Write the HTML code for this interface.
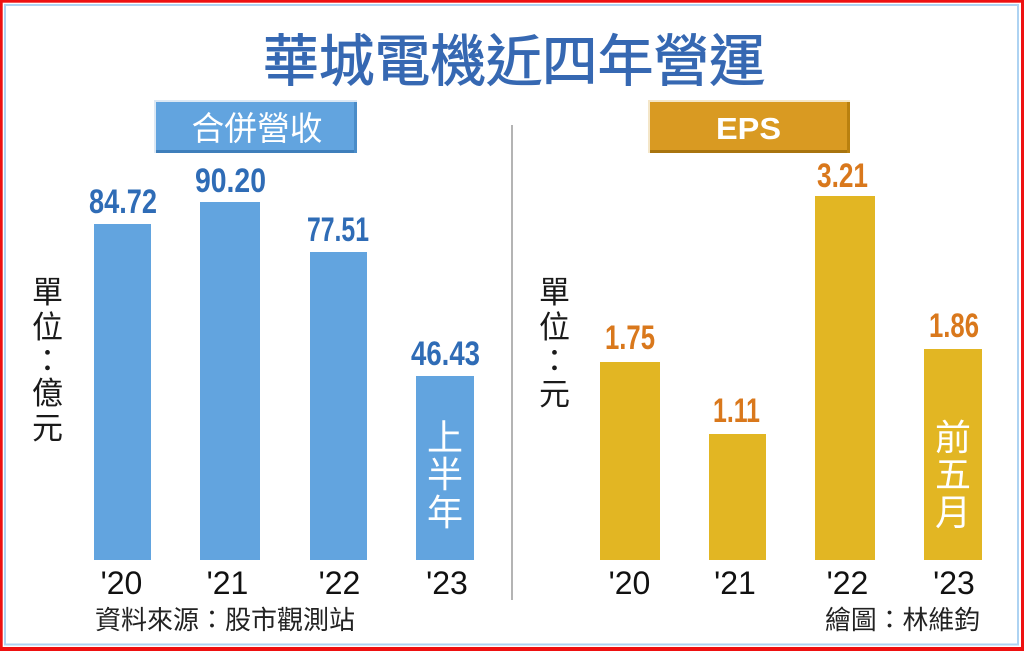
<!DOCTYPE html>
<html><head><meta charset="utf-8"><style>
html,body{margin:0;padding:0;background:#fff;}
svg{display:block;}
.cjk{font-family:"Liberation Sans","Noto Sans CJK TC","Noto Sans CJK SC",sans-serif;}
.num{font-family:"Liberation Sans",sans-serif;font-weight:bold;}
.yr{font-family:"Liberation Sans",sans-serif;font-size:32px;fill:#111;}
</style></head><body>
<svg width="1024" height="651" viewBox="0 0 1024 651" xmlns="http://www.w3.org/2000/svg">
<rect x="0" y="0" width="1024" height="651" fill="#ee1111"/>
<rect x="2.7" y="2.7" width="1018.3" height="644.3" fill="#ffffff"/>
<rect x="5" y="5" width="1013" height="639.5" fill="none" stroke="#aed3f2" stroke-width="2"/>

<!-- title -->
<text class="cjk" x="263" y="81" font-size="56" font-weight="400" fill="#3668b2" stroke="#3668b2" stroke-width="0.9" textLength="502" lengthAdjust="spacingAndGlyphs">華城電機近四年營運</text>

<!-- buttons -->
<rect x="154" y="100" width="203" height="53" fill="#dce8f4"/>
<rect x="156" y="102" width="201" height="51" fill="#62a4df"/>
<rect x="156" y="150" width="201" height="3" fill="#3f7fbb"/>
<rect x="354" y="102" width="3" height="51" fill="#4a8cc8"/>
<text class="cjk" x="257" y="140" font-size="33" fill="#ffffff" text-anchor="middle" textLength="131" lengthAdjust="spacingAndGlyphs">合併營收</text>

<rect x="648" y="100" width="202" height="53" fill="#f4e6c8"/>
<rect x="650" y="102" width="200" height="51" fill="#d99a22"/>
<rect x="650" y="150" width="200" height="3" fill="#a8740e"/>
<rect x="847" y="102" width="3" height="51" fill="#b9800f"/>
<text class="num" x="748.5" y="139" font-size="31" fill="#ffffff" text-anchor="middle" textLength="65" lengthAdjust="spacingAndGlyphs">EPS</text>

<!-- separator -->
<line x1="512" y1="125" x2="512" y2="600" stroke="#b4b4b4" stroke-width="2"/>

<!-- y unit labels -->
<g class="cjk" font-size="31" fill="#1a1a1a" text-anchor="middle">
<text x="47.5" y="303">單</text>
<text x="47.5" y="338">位</text>
<text x="47.5" y="372">：</text>
<text x="47.5" y="404">億</text>
<text x="47.5" y="439">元</text>
<text x="554.5" y="303">單</text>
<text x="554.5" y="338">位</text>
<text x="554.5" y="372">：</text>
<text x="554.5" y="405">元</text>
</g>

<!-- left bars -->
<g fill="#62a4df">
<rect x="94" y="224" width="57" height="336"/>
<rect x="200" y="202" width="60" height="358"/>
<rect x="310" y="252" width="57" height="308"/>
<rect x="416" y="376" width="58" height="184"/>
</g>
<g class="num" font-size="34" fill="#2f6cb6">
<text x="89" y="213" textLength="68" lengthAdjust="spacingAndGlyphs">84.72</text>
<text x="195" y="192" textLength="71" lengthAdjust="spacingAndGlyphs">90.20</text>
<text x="307" y="241" textLength="62" lengthAdjust="spacingAndGlyphs">77.51</text>
<text x="411" y="365" textLength="69" lengthAdjust="spacingAndGlyphs">46.43</text>
</g>

<!-- right bars -->
<g fill="#e2b623">
<rect x="600" y="362" width="60" height="198"/>
<rect x="709" y="434" width="57" height="126"/>
<rect x="815" y="196" width="60" height="364"/>
<rect x="924" y="349" width="58" height="211"/>
</g>
<g class="num" font-size="34" fill="#d9781c">
<text x="605" y="349" textLength="50" lengthAdjust="spacingAndGlyphs">1.75</text>
<text x="713" y="422" textLength="47" lengthAdjust="spacingAndGlyphs">1.11</text>
<text x="817" y="187" textLength="51" lengthAdjust="spacingAndGlyphs">3.21</text>
<text x="929" y="337" textLength="50" lengthAdjust="spacingAndGlyphs">1.86</text>
</g>

<!-- vertical texts in bars -->
<g class="cjk" font-size="36" fill="#ffffff" text-anchor="middle">
<text x="445" y="450">上</text>
<text x="445" y="487">半</text>
<text x="445" y="525">年</text>
<text x="953" y="450">前</text>
<text x="953" y="487">五</text>
<text x="953" y="525">月</text>
</g>

<!-- x labels -->
<g class="yr" text-anchor="middle">
<text x="121.5" y="594">'20</text>
<text x="227.5" y="594">'21</text>
<text x="339.5" y="594">'22</text>
<text x="447" y="594">'23</text>
<text x="629.5" y="594">'20</text>
<text x="735" y="594">'21</text>
<text x="847.5" y="594">'22</text>
<text x="954" y="594">'23</text>
</g>

<!-- footers -->
<text class="cjk" x="95" y="629" font-size="26" fill="#222" textLength="260" lengthAdjust="spacingAndGlyphs">資料來源：股市觀測站</text>
<text class="cjk" x="825" y="629" font-size="26" fill="#222" textLength="155" lengthAdjust="spacingAndGlyphs">繪圖：林維鈞</text>
</svg>
</body></html>
